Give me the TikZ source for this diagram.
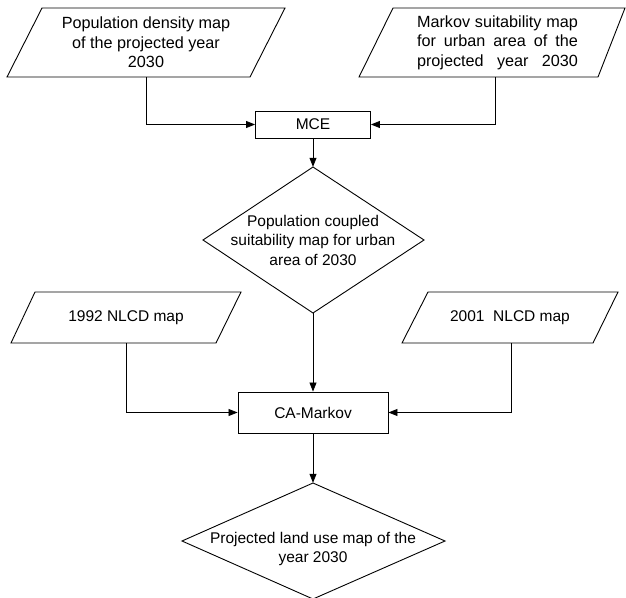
\documentclass[tikz,border=0pt]{standalone}
\usepackage{fontspec}
\setmainfont{Liberation Sans}
\usetikzlibrary{arrows.meta,calc}
\begin{document}
\begin{tikzpicture}[x=1pt,y=-1pt,
  shapeline/.style={draw=black,line width=0.9pt,line join=miter},
  lbl/.style={align=center,inner sep=0pt,font=\fontsize{15.5}{19.5}\selectfont},
  biglbl/.style={align=center,inner sep=0pt,font=\fontsize{16.2}{19.5}\selectfont},
  holder/.style={inner sep=0pt,minimum width=1pt,minimum height=#1},
  procbox/.style={draw=black,line width=0.9pt,inner sep=0pt,font=\fontsize{15.5}{19.5}\selectfont},
  arr/.style={-{Triangle[length=9pt,width=7pt]},line width=0.8pt,draw=black}]
\useasboundingbox (0,0) rectangle (626,597);

% input parallelograms
\draw[shapeline] (42,8) -- (285,8) -- (250,77) -- (7,77) -- cycle;
\node[biglbl,holder=69pt] (p1) at (146,42.5) {Population density map\\of the projected year\\2030};

\draw[shapeline] (393,8) -- (625,8) -- (598,77) -- (359,77) -- cycle;
\node[holder=69pt] (p2) at (495,42.5) {};
\node[biglbl,align=left] (p2t) at (497.5,42.5) {\makebox[161pt][s]{Markov suitability map}\\\makebox[161pt][s]{for urban area of the}\\\makebox[161pt][s]{projected year 2030}};

\draw[shapeline] (35,292) -- (241,292) -- (216,343) -- (11,343) -- cycle;
\node[lbl,holder=51pt] (p3) at (126,317.5) {1992 NLCD map};

\draw[shapeline] (428,292) -- (618,292) -- (593,343) -- (402,343) -- cycle;
\node[holder=51pt] (p4) at (511,317.5) {};
\node[lbl] (p4t) at (510,317.5) {2001\ \ NLCD map};

% process boxes
\node[procbox,minimum width=115pt,minimum height=27pt] (mce) at (313,124.5) {MCE};
\node[procbox,minimum width=150pt,minimum height=41pt] (ca) at (313,412.5) {CA-Markov};

% decision diamonds
\draw[shapeline] (313,167) -- (424,240) -- (313,313) -- (203,240) -- cycle;
\node[lbl,holder=146pt] (d1) at (313,240) {Population coupled\\suitability map for urban\\area of 2030};

\draw[shapeline] (313,483) -- (445,541) -- (313,599) -- (182,541) -- cycle;
\node[holder=116pt] (d2) at (313,541) {};
\node[lbl] (d2t) at (313,549) {Projected land use map of the\\year 2030};

% connectors
\draw[arr] (p1.south) |- (mce.west);
\draw[arr] (p2.south) |- (mce.east);
\draw[arr] (mce.south) -- (d1.north);
\draw[arr] (d1.south) -- (ca.north);
\draw[arr] (p3.south) |- (ca.west);
\draw[arr] (p4.south) |- (ca.east);
\draw[arr] (ca.south) -- (d2.north);
\end{tikzpicture}
\end{document}
